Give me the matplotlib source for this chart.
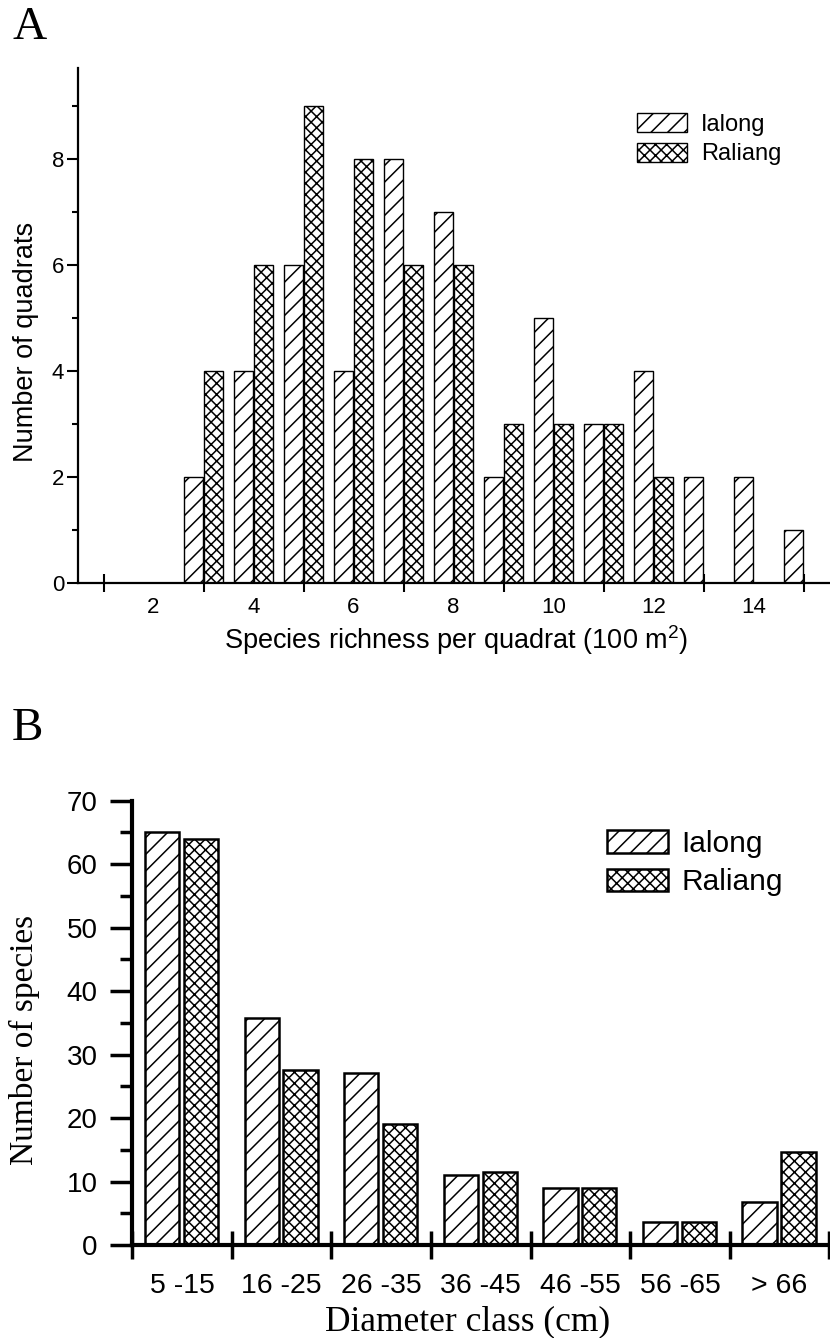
import matplotlib
matplotlib.use("Agg")
import matplotlib.pyplot as plt
from matplotlib.ticker import FixedLocator, NullFormatter
import numpy as np

# ---------------- data ----------------
# Panel A: species richness per quadrat
richness = [3, 4, 5, 6, 7, 8, 9, 10, 11, 12, 13, 14, 15]
ialong_quadrats = [2, 4, 6, 4, 8, 7, 2, 5, 3, 4, 2, 2, 1]
raliang_quadrats = [4, 6, 9, 8, 6, 6, 3, 3, 3, 2, 0, 0, 0]
a_tick_labels = [2, 4, 6, 8, 10, 12, 14]

# Panel B: diameter classes
diameter_classes = ["5 -15", "16 -25", "26 -35", "36 -45", "46 -55", "56 -65", "> 66"]
ialong_species = [65, 35.7, 27.1, 11, 8.9, 3.6, 6.8]
raliang_species = [64, 27.6, 19, 11.5, 8.9, 3.6, 14.7]

series_names = ["Ialong", "Raliang"]

# ---------------- style ----------------
plt.rcParams["font.family"] = ["Liberation Sans", "DejaVu Sans"]
plt.rcParams["mathtext.fontset"] = "custom"
plt.rcParams["mathtext.rm"] = "Liberation Sans"
plt.rcParams["hatch.linewidth"] = 1.1
plt.rcParams["hatch.color"] = "black"

W, H = 830, 1338
fig = plt.figure(figsize=(W / 100, H / 100), dpi=100)


def fx(px):
    return px / W


def fy(py):
    return 1 - py / H


# ---------------- Panel A ----------------
axA = fig.add_axes([fx(78), fy(583), fx(830) - fx(78), fy(68) - fy(583)])
x = np.array(richness, dtype=float)
bw = 0.37
axA.bar(x - 0.2, ialong_quadrats, width=bw, facecolor="white", edgecolor="black",
        linewidth=1.0, hatch="//", label=series_names[0])
axA.bar(x + 0.2, raliang_quadrats, width=bw, facecolor="white", edgecolor="black",
        linewidth=1.0, hatch="xxx", label=series_names[1])
axA.set_xlim(0.49, 15.53)
axA.set_ylim(0, 9.72)
for s in ["top", "right"]:
    axA.spines[s].set_visible(False)
for s in ["left", "bottom"]:
    axA.spines[s].set_linewidth(1.6)
# odd positions: tick marks without labels; even: labels without marks
axA.xaxis.set_major_locator(FixedLocator(list(range(1, 16, 2))))
axA.xaxis.set_major_formatter(NullFormatter())
axA.xaxis.set_minor_locator(FixedLocator(a_tick_labels))
axA.set_xticklabels([str(v) for v in a_tick_labels], minor=True)
axA.tick_params(axis="x", which="major", direction="inout", length=13, width=1.5)
axA.tick_params(axis="x", which="minor", length=0, pad=10, labelsize=16)
axA.yaxis.set_major_locator(FixedLocator([0, 2, 4, 6, 8]))
axA.yaxis.set_minor_locator(FixedLocator([1, 3, 5, 7, 9]))
axA.tick_params(axis="y", which="major", direction="out", length=8, width=1.5,
                pad=2, labelsize=16)
axA.tick_params(axis="y", which="minor", direction="out", length=4, width=1.5)
axA.legend(loc="upper left", bbox_to_anchor=(fx(637), fy(113)),
           bbox_transform=fig.transFigure, frameon=False, fontsize=17,
           borderpad=0, borderaxespad=0, handlelength=2.1, handleheight=0.85,
           handletextpad=0.6, labelspacing=0.3)
fig.text(fx(456), fy(640), "Species richness per quadrat (100 m$\\mathregular{^2}$)",
         ha="center", va="center", fontsize=19.5)
fig.text(fx(26), fy(342), "Number of quadrats", rotation=90, ha="center",
         va="center", fontsize=19.5)
fig.text(fx(12), fy(39), "A", family="Liberation Serif", fontsize=34,
         ha="left", va="baseline")

# ---------------- Panel B ----------------
axB = fig.add_axes([fx(132.3), fy(1245), fx(829.3) - fx(132.3), fy(800.6) - fy(1245)])
g = np.arange(len(diameter_classes))
bwB = 0.345
axB.bar(g - 0.2, ialong_species, width=bwB, facecolor="white", edgecolor="black",
        linewidth=1.8, hatch="//", label=series_names[0])
axB.bar(g + 0.19, raliang_species, width=bwB, facecolor="white", edgecolor="black",
        linewidth=1.8, hatch="xxx", label=series_names[1])
axB.set_xlim(-0.5, len(diameter_classes) - 0.5)
axB.set_ylim(0, 70)
for s in ["top", "right"]:
    axB.spines[s].set_visible(False)
for s in ["left", "bottom"]:
    axB.spines[s].set_linewidth(3)
axB.xaxis.set_major_locator(FixedLocator(list(np.arange(-0.5, len(diameter_classes), 1.0))))
axB.xaxis.set_major_formatter(NullFormatter())
axB.xaxis.set_minor_locator(FixedLocator(list(g)))
axB.set_xticklabels(diameter_classes, minor=True)
axB.tick_params(axis="x", which="major", direction="inout", length=20, width=2.5)
axB.tick_params(axis="x", which="minor", length=0, pad=20, labelsize=20.5)
axB.yaxis.set_major_locator(FixedLocator(list(range(0, 71, 10))))
axB.yaxis.set_minor_locator(FixedLocator(list(range(5, 70, 10))))
axB.tick_params(axis="y", which="major", direction="out", length=16, width=2.5,
                pad=9, labelsize=20)
axB.tick_params(axis="y", which="minor", direction="out", length=9, width=2.5)
axB.legend(loc="upper left", bbox_to_anchor=(fx(607), fy(830)),
           bbox_transform=fig.transFigure, frameon=False, fontsize=21.5,
           borderpad=0, borderaxespad=0, handlelength=2.05, handleheight=0.8,
           handletextpad=0.45, labelspacing=0.35)
fig.text(fx(468), fy(1330), "Diameter class (cm)", family="Liberation Serif",
         fontsize=25.5, ha="center", va="baseline")
fig.text(fx(24), fy(1040), "Number of species", family="Liberation Serif",
         fontsize=24, rotation=90, ha="center", va="center")
fig.text(fx(12), fy(740), "B", family="Liberation Serif", fontsize=34,
         ha="left", va="baseline")

fig.savefig("out.png", dpi=100)
